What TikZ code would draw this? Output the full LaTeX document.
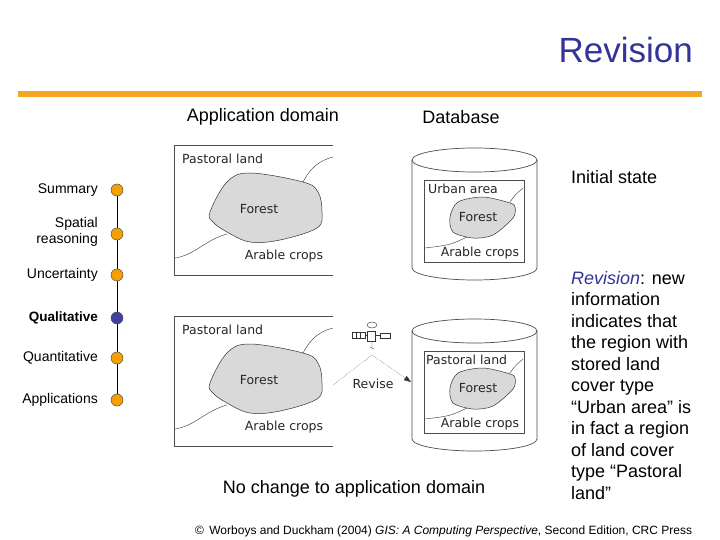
\documentclass[tikz,border=0pt]{standalone}
\usepackage{fontspec}
\setmainfont{Liberation Sans}
\newfontfamily\mapfont{DejaVu Sans}
\usetikzlibrary{arrows.meta}
\definecolor{titleblue}{HTML}{333399}
\definecolor{barorange}{HTML}{F5A623}
\definecolor{dotorange}{HTML}{F5A000}
\definecolor{dotblue}{HTML}{4040A0}
\definecolor{blobgray}{HTML}{D9D9D9}
\begin{document}
\begin{tikzpicture}[x=1pt,y=-1pt,
  txt/.style={font=\fontsize{18}{21.5}\selectfont,inner sep=0pt},
  side/.style={font=\fontsize{14}{16}\selectfont,inner sep=0pt,anchor=east,align=right},
  dot/.style={circle,draw=black!70,line width=0.5pt,fill=dotorange,minimum size=12pt,inner sep=0pt},
  maptxt/.style={font=\mapfont\fontsize{12.5}{14}\selectfont,inner sep=0pt,text=black!85},
  blob/.style={draw=black!80,line width=0.5pt,fill=blobgray},
  thin/.style={draw=black!80,line width=0.4pt},
  box/.style={draw=black!70,line width=0.7pt}]
\useasboundingbox (0,0) rectangle (720,540);
\node[font=\fontsize{35}{38}\selectfont,text=titleblue,anchor=east,inner sep=0pt] (title) at (693,50) {Revision};
\draw[barorange,line width=6pt] (18,94) -- (702,94);
\node[txt] (appd) at (263,117) {Application domain};
\node[txt] (dbase) at (461,117) {Database};
% sidebar
\draw[line width=1pt] (117,190) -- (117,400);
\foreach \n/\y in {a/190,b/234,c/275,e/358,f/400}{\node[dot] (d\n) at (117,\y) {};}
\node[dot,fill=dotblue] (dd) at (117,318) {};
\node[side] (lsum) at (98,190) {Summary};
\node[side] (lspa) at (98,232) {Spatial\\reasoning};
\node[side] (lunc) at (98,275) {Uncertainty};
\node[side,font=\fontsize{13.5}{15}\selectfont\bfseries] (lqua) at (98,318) {Qualitative};
\node[side] (lqnt) at (98,358) {Quantitative};
\node[side] (lapp) at (98,400) {Applications};
% maps
\foreach \dy in {0,171}{
\begin{scope}[yshift=-\dy]
\draw[box] (333,145) -- (174,145) -- (174,275) -- (333,275);
\draw[blob] plot[smooth cycle,tension=0.6] coordinates {(210,212) (227,182) (250,173) (303,182) (318,192) (322,212) (317,228) (280,240) (250,242) (227,232) (213,222)};
\draw[thin] (303,182) .. controls (312,165) and (322,160) .. (333,157);
\draw[thin] (227,234) .. controls (205,240) and (195,255) .. (175,258);
\node[maptxt,anchor=west] at (182,159) {Pastoral land};
\node[maptxt] at (259,209) {Forest};
\node[maptxt] at (284,256) {Arable crops};
% cylinder
\fill[white] (412,160) rectangle (537,268);
\draw[box] (474.5,160) ellipse [x radius=62.5,y radius=12];
\draw[box] (412,160) -- (412,268) arc[start angle=180,end angle=0,x radius=62.5,y radius=12] -- (537,160);
\draw[box,line width=0.6pt] (424,180) rectangle (524,262);
\draw[blob] plot[smooth cycle,tension=0.5] coordinates {(450,217) (458,202) (483,197) (510,203) (515,207) (513,218) (493,235) (473,238) (453,232)};
\draw[thin] (510,202) .. controls (515,195) .. (523,188);
\draw[thin] (467,237) .. controls (450,245) .. (425,248);
\node[maptxt] at (480,253) {Arable crops};
\node[maptxt] at (478,217) {Forest};
\end{scope}}
\node[maptxt,anchor=west] (ua) at (428,189) {Urban area};
\node[maptxt,anchor=west] (pl2) at (426,360) {Pastoral land};
% satellite
\begin{scope}[shift={(372,335)}]
\draw[thin,fill=white] (-20,-3) rectangle (-7,3);
\foreach \x in {-16,-12}{\draw[thin] (\x,-3) -- (\x,3);}
\draw[thin,fill=white] (-5,-4) rectangle (3,6);
\draw[thin] (-7,0) -- (-5,0) (3,0) -- (8,0);
\draw[thin] (8,-2) rectangle (18,3);
\draw[thin] (0,-10) ellipse [x radius=5,y radius=3];
\draw[thin] (0,6) -- (0,12) (-2,12) -- (2,14);
\end{scope}
\coordinate (sat) at (372,355);
\coordinate (mapR) at (333,385);
\node[maptxt] (rev) at (373,384) {Revise};
\draw[thin,densely dotted] (mapR) -- (sat);
\draw[thin,densely dotted,-{Triangle[length=7pt,width=5pt]}] (sat) -- (411,382);
% right text
\node[txt,anchor=west] (init) at (571,177) {Initial state};
\node[txt,anchor=north west,align=left] (revtxt) at (571,271) {\textcolor{titleblue}{\itshape Revision}: new\\information\\indicates that\\the region with\\stored land\\cover type\\“Urban area” is\\in fact a region\\of land cover\\type “Pastoral\\land”};
\node[txt] (nochg) at (354,489) {No change to application domain};
\node[font=\fontsize{12}{14}\selectfont,inner sep=0pt,anchor=west] (foot) at (195,531) {©\, Worboys and Duckham (2004) \textit{GIS: A Computing Perspective}, Second Edition, CRC Press};
\end{tikzpicture}
\end{document}
